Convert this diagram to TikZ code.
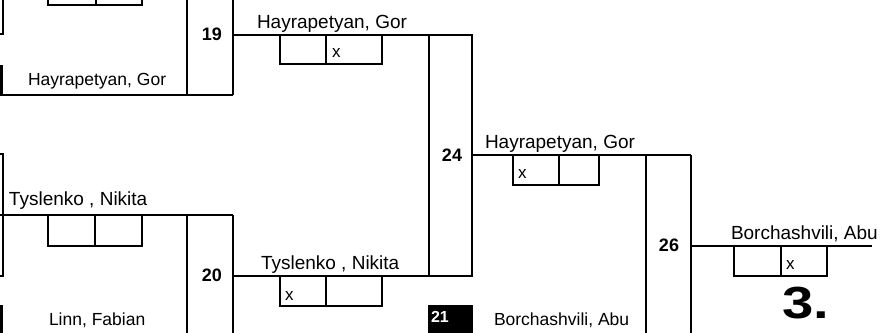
\documentclass[tikz,border=0pt]{standalone}
\usepackage{fontspec}
\setmainfont{Liberation Sans}
\begin{document}
\begin{tikzpicture}[x=1pt,y=-1pt,line width=2pt,
  upname/.style={anchor=base west,inner sep=0pt,font=\fontsize{19}{19}\selectfont},
  loname/.style={anchor=base west,inner sep=0pt,font=\fontsize{17.5}{17.5}\selectfont},
  num/.style={inner sep=0pt,font=\fontsize{18}{18}\selectfont\bfseries},
  xmark/.style={anchor=base west,inner sep=0pt,font=\fontsize{17}{17}\selectfont},
  seed/.style={anchor=base west,inner sep=0pt,text=white,font=\fontsize{16}{16}\selectfont\bfseries},
  place/.style={anchor=base west,inner sep=0pt,xscale=1.25,font=\fontsize{45}{45}\selectfont\bfseries}]
\useasboundingbox (0,0) rectangle (886,332);
\clip (0,0) rectangle (886,332);
% coordinates
\coordinate (a0) at (-10,95);
\coordinate (a1) at (233,95);
% ---- left column fragments
\draw (-10,34) -- (3,34) -- (3,-20);
\fill (-50,65) rectangle (3,95);
\draw (-10,154) -- (3,154) -- (3,276) -- (-10,276);
\fill (-50,305) rectangle (3,340);
% ---- box 19
\draw (187,-20) -- (187,95);
\draw (233,-20) -- (233,95);
\draw (a0) -- (a1);
\draw (48,-30) rectangle (142,5);
\draw (96,-30) -- (96,5);
% ---- box 20
\draw (-10,215) -- (233,215);
\draw (48,215) rectangle (142,246);
\draw (95,215) -- (95,246);
\draw (187,215) -- (187,340);
\draw (233,215) -- (233,340);
% ---- box 24
\draw (233,35) -- (472,35) -- (472,276) -- (233,276);
\draw (429,35) -- (429,276);
\draw (280,35) rectangle (382,64);
\draw (326,35) -- (326,64);
\draw (280,276) rectangle (382,306);
\draw (326,276) -- (326,306);
\fill (428,305) rectangle (473,340);
% ---- box 26
\draw (472,155) -- (691,155);
\draw (646,155) -- (646,340);
\draw (691,155) -- (691,340);
\draw (513,155) rectangle (599,185);
\draw (559,155) -- (559,185);
% ---- final
\draw (691,246) -- (872,246);
\draw (734,246) rectangle (827,276);
\draw (781,246) -- (781,276);
% ---- texts
\node[upname] (t1) at (8,205) {Tyslenko , Nikita};
\node[loname] (t2) at (27,85) {Hayrapetyan, Gor};
\node[loname] (t3) at (48,325) {Linn, Fabian};
\node[upname] (t4) at (256,28) {Hayrapetyan, Gor};
\node[upname] (t5) at (260,269) {Tyslenko , Nikita};
\node[upname] (t6) at (484,148) {Hayrapetyan, Gor};
\node[loname] (t7) at (493,325) {Borchashvili, Abu};
\node[upname] (t8) at (730,239) {Borchashvili, Abu};
\node[num] (n19) at (212,34) {19};
\node[num] (n20) at (212,275) {20};
\node[num] (n24) at (452,155) {24};
\node[num] (n26) at (669,245) {26};
\node[seed] (n21) at (430,322) {21};
\node[xmark] (x1) at (331,57) {x};
\node[xmark] (x2) at (284,300) {x};
\node[xmark] (x3) at (517,178) {x};
\node[xmark] (x4) at (785,269) {x};
\node[place] (p3) at (781,318) {3.};
\end{tikzpicture}
\end{document}
